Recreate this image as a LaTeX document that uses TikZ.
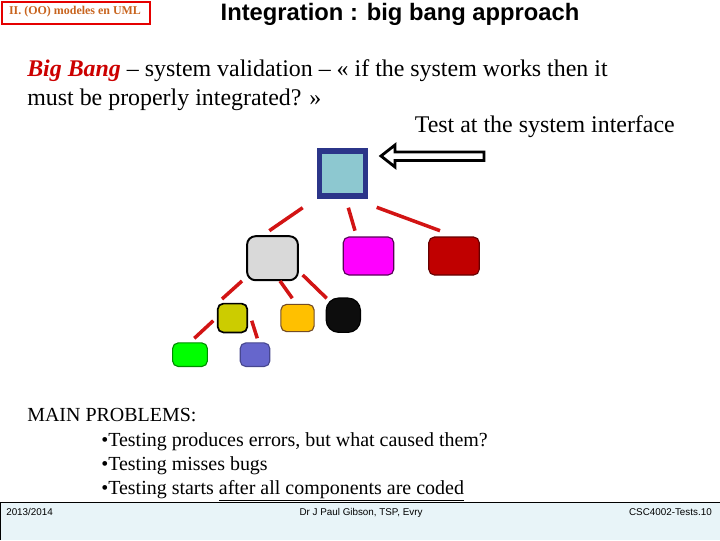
\documentclass[tikz,border=0pt]{standalone}
\usepackage{fontspec}
\setmainfont{Liberation Serif}
\newfontfamily\arialfont{Liberation Sans}
\definecolor{navy}{RGB}{43,53,137}
\definecolor{paleblue}{RGB}{141,200,208}
\definecolor{linkred}{RGB}{210,20,20}
\definecolor{bangred}{RGB}{204,0,0}
\definecolor{labelbrown}{RGB}{200,100,30}
\definecolor{footerbg}{RGB}{232,244,248}
\definecolor{compgray}{RGB}{217,217,217}
\definecolor{compmagenta}{RGB}{255,0,255}
\definecolor{compred}{RGB}{192,0,0}
\definecolor{compolive}{RGB}{204,204,0}
\definecolor{comporange}{RGB}{255,192,0}
\definecolor{compgreen}{RGB}{0,255,0}
\definecolor{compblue}{RGB}{102,102,204}

\begin{document}
\begin{tikzpicture}[x=0.025cm,y=-0.025cm,
	box/.style={draw,inner sep=0pt,rounded corners=4pt,line width=0.8pt},
	link/.style={draw=linkred,line width=2.5pt}]
	\useasboundingbox (0,0) rectangle (720,540);

	% header
	\draw[red!90!black,line width=2pt] (2,2) rectangle (150,24);
	\node[text=labelbrown,font=\fontsize{8.5}{10}\selectfont\bfseries] (label) at (75,12) {II. (OO) modeles en UML};
	\node[font=\arialfont\fontsize{16.9}{20}\selectfont\bfseries] (title) at (400,14) {Integration : big bang approach};

	% text
	\node[anchor=base west,font=\fontsize{17}{20}\selectfont,inner sep=0pt] (line1) at (27,76)
		{\textcolor{bangred}{\textbf{\textit{Big Bang}}} -- system validation -- « if the system works then it};
	\node[anchor=base west,font=\fontsize{17}{20}\selectfont,inner sep=0pt] (line2) at (27,105) {must be properly integrated? »};
	\node[anchor=base east,font=\fontsize{17}{20}\selectfont,inner sep=0pt] (iface) at (675,132) {Test at the system interface};

	% components
	\node[draw=navy,fill=paleblue,line width=3.9pt,inner sep=0pt,minimum width=1.15cm,minimum height=1.12cm] (S) at (342.5,173.5) {};
	\node[box,fill=compgray,line width=1.4pt,rounded corners=6pt,minimum width=1.27cm,minimum height=1.1cm] (A) at (272.5,258.2) {};
	\node[box,draw=violet!70!black,fill=compmagenta,minimum width=1.26cm,minimum height=0.95cm] (B) at (368.5,256) {};
	\node[box,draw=red!40!black,fill=compred,minimum width=1.26cm,minimum height=0.95cm] (C) at (454,256) {};
	\node[box,fill=compolive,line width=1.2pt,minimum width=0.74cm,minimum height=0.72cm] (D) at (232.5,318) {};
	\node[box,draw=brown!60!black,fill=comporange,minimum width=0.83cm,minimum height=0.68cm] (E) at (297.5,318) {};
	\node[box,fill=black!95,rounded corners=9pt,minimum width=0.86cm,minimum height=0.86cm] (F) at (343.3,315.2) {};
	\node[box,draw=green!55!black,fill=compgreen,minimum width=0.87cm,minimum height=0.59cm] (G) at (190,354.7) {};
	\node[box,draw=compblue!70!black,fill=compblue,minimum width=0.74cm,minimum height=0.59cm] (H) at (255,354.7) {};

	% hollow arrow
	\draw[line width=2pt,fill=white,line join=miter] (381,156) -- (395,145) -- (395,152) -- (484,152) -- (484,160.5) -- (395,160.5) -- (395,167) -- cycle;

	% red links
	\foreach \xa/\ya/\xb/\yb in {302.7/207.7/269.3/230.7, 348.3/207.7/355/230.7, 376.7/207.3/440/230.7,
		242/281/222/299, 280/281/292.3/298.3, 302.7/275/326.7/298.3,
		213.3/320.7/194.3/338.3, 251.7/320.7/257.3/338.3}
		\draw[link] (\xa,\ya) -- (\xb,\yb);

	% problems
	\node[anchor=base west,font=\fontsize{14.2}{17}\selectfont,inner sep=0pt] (prob) at (27,421) {MAIN PROBLEMS:};
	\node[anchor=base west,font=\fontsize{14.2}{17}\selectfont,inner sep=0pt] (p1) at (101,446) {•Testing produces errors, but what caused them?};
	\node[anchor=base west,font=\fontsize{14.2}{17}\selectfont,inner sep=0pt] (p2) at (101,470) {•Testing misses bugs};
	\node[anchor=base west,font=\fontsize{14.2}{17}\selectfont,inner sep=0pt] (p3) at (101,494) {•Testing starts \underline{after all components are coded}};

	% footer
	\fill[footerbg] (0,502) rectangle (720,540);
	\draw[line width=0.7pt] (0,540) -- (0,502) -- (720,502);
	\node[anchor=base west,font=\arialfont\fontsize{7}{8}\selectfont,inner sep=0pt] (year) at (6,515) {2013/2014};
	\node[anchor=base,font=\arialfont\fontsize{7}{8}\selectfont,inner sep=0pt] (author) at (361,515) {Dr J Paul Gibson, TSP, Evry};
	\node[anchor=base east,font=\arialfont\fontsize{7}{8}\selectfont,inner sep=0pt] (course) at (712,515) {CSC4002-Tests.10};
\end{tikzpicture}
\end{document}
